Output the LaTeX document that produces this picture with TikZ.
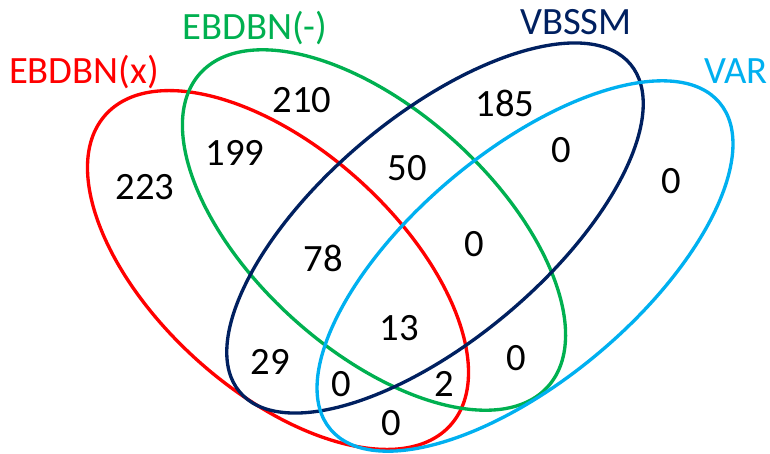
\documentclass[tikz,border=0pt]{standalone}
\usepackage{fontspec}
\setmainfont{Carlito}
\definecolor{setred}{HTML}{FF0000}
\definecolor{setgreen}{HTML}{00B050}
\definecolor{setnavy}{HTML}{002060}
\definecolor{setcyan}{HTML}{00B0F0}
\begin{document}
\begin{tikzpicture}[x=0.02cm, y=-0.02cm, line width=1.9pt, font=\fontsize{22}{26}\selectfont]
	\tikzset{set label/.style={inner sep=0pt}, count/.style={inner sep=0pt}}
	\useasboundingbox (0,0) rectangle (770,453);
	\path (278,270) coordinate (R)
	(374,230) coordinate (G)
	(435,228) coordinate (B)
	(525,266) coordinate (C)
	;
	% the four sets
	\draw[setred, shift={(R)}, rotate=-42] (0,0) ellipse [x radius=232, y radius=121];
	\draw[setgreen, shift={(G)}, rotate=-42] (0,0) ellipse [x radius=234, y radius=120];
	\draw[setnavy, shift={(B)}, rotate=40] (0,0) ellipse [x radius=255, y radius=112];
	\draw[setcyan, shift={(C)}, rotate=40] (0,0) ellipse [x radius=254, y radius=114];
	% set names
	\node[set label, setred] (nameR) at (84,72) {EBDBN(x)};
	\node[set label, setgreen] (nameG) at (255,28) {EBDBN(-)};
	\node[set label, setnavy] (nameB) at (576,22) {VBSSM};
	\node[set label, setcyan] (nameC) at (736,71) {VAR};
	% counts per region
	\foreach \r/\x/\y/\v in {r/145/187/223, g/302/100/210, b/505/103/185, c/671/181/0,
		rg/235/153/199, gb/407/168/50, bc/561/150/0, rgb/323/258/78, gbc/474/244/0,
		rgbc/399/328/13, rb/270/362/29, rbc/341/384/0, rgc/444/384/2, gc/516/358/0, rc/391/423/0}
		\node[count] (n\r) at (\x,\y) {\v};
\end{tikzpicture}
\end{document}
